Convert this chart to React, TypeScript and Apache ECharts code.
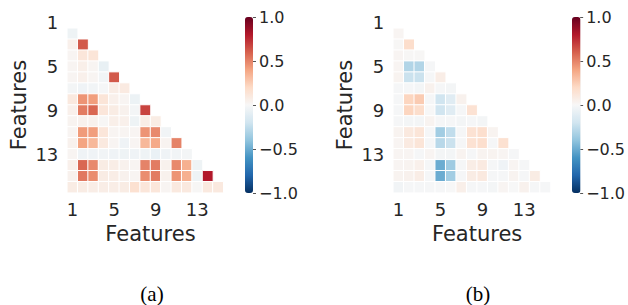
import React, { useEffect, useRef } from "react";
import * as echarts from "echarts";

// Feature labels (1..16)
const features: string[] = Array.from({ length: 16 }, (_, i) => String(i + 1));

// Lower-triangle correlations, rows = features 2..16, cols = features 1..(row-1)
const lowerA: number[][] = [
  [-0.05],
  [0.05, 0.62],
  [0.02, 0.12, 0.13],
  [0.02, 0.06, 0.02, -0.08],
  [0.02, 0.05, 0.02, -0.03, 0.62],
  [-0.02, -0.04, -0.03, -0.01, 0.07, 0.09],
  [0.1, 0.45, 0.42, 0.13, 0.05, 0.02, -0.06],
  [0.05, 0.52, 0.58, 0.12, 0.08, 0.04, -0.02, 0.68],
  [0.03, 0.04, 0.04, 0.01, 0.06, 0.05, -0.05, 0.07, 0.08],
  [0.02, 0.43, 0.42, 0.12, 0.02, 0.02, 0.02, 0.45, 0.48, -0.03],
  [0.04, 0.4, 0.33, 0.1, 0.02, -0.04, 0.02, 0.33, 0.38, 0.03, 0.5],
  [0.02, -0.04, -0.04, -0.03, -0.04, -0.05, -0.04, -0.05, -0.07, -0.04, -0.03, -0.02],
  [0.05, 0.58, 0.48, 0.08, 0.07, 0.04, 0.02, 0.5, 0.52, 0.04, 0.48, 0.36, -0.05],
  [0.04, 0.53, 0.47, 0.08, 0.07, 0.04, 0.02, 0.47, 0.52, 0.04, 0.45, 0.36, -0.05, 0.8],
  [0.08, 0.08, 0.07, 0.07, 0.07, 0.08, 0.16, 0.12, 0.12, 0.02, 0.1, 0.1, 0.01, 0.1, 0.1],
];

const lowerB: number[][] = [
  [0.02],
  [0.01, 0.18],
  [0.02, 0.01, 0.01],
  [0.02, -0.3, -0.3, -0.01],
  [0.03, -0.22, -0.22, -0.01, 0.07],
  [-0.01, -0.01, -0.02, 0.04, -0.01, -0.02],
  [-0.01, 0.22, 0.26, -0.01, -0.2, -0.12, 0.04],
  [-0.01, 0.22, 0.18, 0.0, -0.2, -0.12, -0.01, 0.15],
  [-0.01, -0.02, -0.02, 0.03, -0.01, -0.01, -0.02, -0.01, -0.02],
  [0.03, 0.1, 0.13, -0.01, -0.35, -0.25, -0.01, 0.15, 0.17, 0.03],
  [0.02, 0.09, 0.13, -0.01, -0.28, -0.22, -0.01, 0.15, 0.17, -0.01, 0.16],
  [0.02, 0.02, -0.01, 0.02, -0.02, -0.02, 0.03, -0.01, 0.03, 0.03, 0.02, -0.01],
  [0.02, 0.03, 0.05, -0.01, -0.5, -0.36, -0.01, 0.07, 0.09, -0.01, -0.04, 0.02, -0.01],
  [0.03, 0.04, 0.07, -0.01, -0.5, -0.35, -0.01, 0.08, 0.1, -0.01, -0.01, 0.03, -0.01, 0.08],
  [-0.03, -0.01, -0.01, -0.01, -0.01, 0.0, 0.06, -0.01, -0.01, -0.02, 0.02, 0.0, 0.04, -0.01, -0.01],
];

const colorbarMin = -1;
const colorbarMax = 1;
const colorbarStep = 0.5;
const panelCaptions = ["(a)", "(b)"];

const RdBu_r = [
  "#053061", "#2166ac", "#4393c3", "#92c5de", "#d1e5f0", "#f7f7f7",
  "#fddbc7", "#f4a582", "#d6604d", "#b2182b", "#67001f",
];

const TEXT = "#262626";
const FONT = "DejaVu Sans";

function toCells(lower: number[][]): [number, number, number][] {
  const out: [number, number, number][] = [];
  lower.forEach((row, r) => {
    row.forEach((v, c) => out.push([c, r + 1, v]));
  });
  return out;
}

export default function App() {
  const ref = useRef<HTMLDivElement>(null);
  useEffect(() => {
    if (!ref.current) return;
    const chart = echarts.init(ref.current, null, { renderer: "svg" });

    const heatGrids = [
      { left: 67.3, top: 17.3, width: 166.4, height: 175.4 },
      { left: 393.3, top: 17.3, width: 167.7, height: 175.4 },
    ];
    const barGrids = [
      { left: 245, top: 17, width: 8, height: 176 },
      { left: 572, top: 17, width: 8.5, height: 176 },
    ];

    const catX = (gi: number) => ({
      type: "category",
      gridIndex: gi,
      data: features,
      axisLine: { show: false },
      axisTick: { show: false },
      splitLine: { show: false },
      axisLabel: { interval: 3, color: TEXT, fontFamily: FONT, fontSize: 18, margin: 8 },
      name: "Features",
      nameLocation: "middle",
      nameGap: 29,
      nameTextStyle: { color: TEXT, fontFamily: FONT, fontSize: 21 },
    });
    const catY = (gi: number) => ({
      type: "category",
      gridIndex: gi,
      data: features,
      inverse: true,
      axisLine: { show: false },
      axisTick: { show: false },
      splitLine: { show: false },
      axisLabel: { interval: 3, color: TEXT, fontFamily: FONT, fontSize: 18, margin: 9 },
      name: "Features",
      nameLocation: "middle",
      nameGap: 38,
      nameTextStyle: { color: TEXT, fontFamily: FONT, fontSize: 21 },
    });
    const barX = (gi: number) => ({
      type: "category",
      gridIndex: gi,
      data: [""],
      show: false,
    });
    const barY = (gi: number) => ({
      type: "value",
      gridIndex: gi,
      position: "right",
      min: colorbarMin,
      max: colorbarMax,
      interval: colorbarStep,
      axisLine: { show: false },
      axisTick: { show: true, length: 3, lineStyle: { color: "#555", width: 1 } },
      splitLine: { show: false },
      axisLabel: {
        color: TEXT,
        fontFamily: FONT,
        fontSize: 16,
        margin: 6,
        formatter: (v: number) => (v < 0 ? "\u2212" + Math.abs(v).toFixed(1) : v.toFixed(1)),
      },
    });

    const heatSeries = (gi: number, lower: number[][]) => ({
      type: "heatmap",
      xAxisIndex: gi,
      yAxisIndex: gi,
      data: toCells(lower),
      itemStyle: { borderColor: "#ffffff", borderWidth: 1 },
      emphasis: { disabled: true },
    });

    chart.setOption({
      animation: false,
      backgroundColor: "#ffffff",
      grid: [...heatGrids, ...barGrids],
      xAxis: [catX(0), catX(1), barX(2), barX(3)],
      yAxis: [catY(0), catY(1), barY(2), barY(3)],
      visualMap: [0, 1].map((i) => ({
        type: "continuous",
        seriesIndex: i,
        min: colorbarMin,
        max: colorbarMax,
        calculable: false,
        hoverLink: false,
        orient: "vertical",
        left: barGrids[i].left,
        top: barGrids[i].top,
        padding: 0,
        itemWidth: barGrids[i].width,
        itemHeight: barGrids[i].height,
        inRange: { color: RdBu_r },
        text: null,
      })),
      series: [heatSeries(0, lowerA), heatSeries(1, lowerB)],
      graphic: panelCaptions.map((t, i) => ({
        type: "text",
        x: i === 0 ? 152 : 478,
        y: 294,
        style: {
          text: t,
          fill: "#000",
          fontFamily: "Liberation Serif",
          fontSize: 21,
          align: "center",
          verticalAlign: "middle",
        },
      })),
    });
    return () => chart.dispose();
  }, []);
  return (
    <div
      ref={ref}
      style={{ position: "fixed", left: 0, top: 0, width: 628, height: 305 }}
    />
  );
}
